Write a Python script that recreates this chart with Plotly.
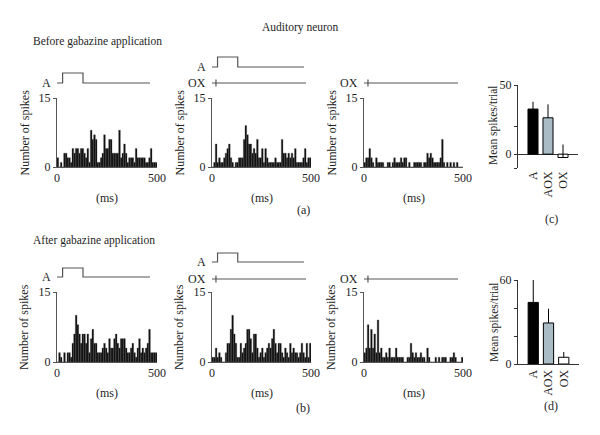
import plotly.graph_objects as go

W, H = 600, 435
FONT = "Liberation Serif, DejaVu Serif, serif"
OFF = 8  # page body margin compensation (px)

# ---------------- data ----------------
T_MAX = 500  # ms
before_A = [2,0,1,0,3,3,2,2,1,4, 3,4,4,3,4,4,3,2,4,1, 8,6,7,6,1,1,2,3,7,4,
            4,6,6,3,3,3,3,8,2,3, 5,3,1,2,2,2,1,4,2,2, 2,2,2,1,1,2,4,1,1,1]
before_AOX = [0,1,5,1,2,1,1,2,3,4, 5,2,1,0,1,1,2,2,2,6, 9,7,5,5,3,4,3,6,2,2,
              4,1,4,2,1,1,1,1,2,1, 1,1,6,3,3,2,3,2,3,2, 4,1,1,1,1,2,4,1,2,2]
before_OX = [1,2,2,4,2,1,0,2,1,1, 1,1,0,0,1,1,0,1,2,1, 1,1,2,1,2,2,0,1,0,0,
             1,1,1,1,1,0,1,1,3,2, 3,2,1,1,1,1,2,6,1,0, 1,0,1,0,1,0,1,0,0,0]
after_A = [0,2,1,0,2,0,2,2,1,4, 6,10,8,6,4,6,6,4,6,2, 5,7,4,4,2,2,2,3,4,3,
           2,5,3,3,5,6,4,3,5,5, 5,3,2,2,3,4,2,1,3,5, 2,3,2,3,4,7,2,2,2,2]
after_AOX = [1,1,3,1,2,1,0,0,2,4, 4,7,10,6,4,1,1,4,2,3, 4,7,7,5,2,6,6,3,1,2,
             3,1,2,3,4,3,5,7,4,2, 4,4,2,1,3,2,1,4,2,3, 2,2,1,2,4,2,1,4,1,4]
after_OX = [2,3,8,3,7,3,6,2,9,2, 3,1,1,2,1,3,1,1,1,3, 1,1,1,1,0,0,1,1,4,2,
            1,2,1,1,2,1,1,0,3,1, 0,0,0,1,0,1,0,1,1,1, 0,0,1,1,2,1,0,0,0,1]

bar_categories = ["A", "AOX", "OX"]
before_means = [32.6, 26.3, -2.4]
before_err = [5.3, 9.7, 9.4]
after_means = [44.0, 29.3, 4.8]
after_err = [16.0, 10.2, 3.8]
bar_colors = ["#000000", "#a9bcc6", "#ffffff"]

A_pulse = [0, 28, 130, 465]   # start, onset, offset, end (ms)
OX_line = [0, 20, 475]        # start, onset tick, end (ms)

hist_ticks = [0, 15]
hist_xticks = [0, 500]

# ---------------- layout helpers ----------------
def dx(a, b):
    return [(a - OFF) / W, (b - OFF) / W]

def dy(top, bottom):
    return [1 - (bottom - OFF) / H, 1 - (top - OFF) / H]

def r(letter, k):
    return letter if k == 1 else f"{letter}{k}"

def key(letter, k):
    return f"{letter}axis" if k == 1 else f"{letter}axis{k}"

AXC = "#555555"
TXT = "#1e1e1e"
TICKF = dict(size=12, family=FONT, color=TXT)

fig = go.Figure()
layout = dict(
    template="none",
    width=W, height=H, margin=dict(l=0, r=0, t=0, b=0, pad=0, autoexpand=False),
    paper_bgcolor="white", plot_bgcolor="white", showlegend=False,
    font=dict(family=FONT, size=12, color=TXT),
)
annotations = []

def ann(text, x, y, xanchor="center", yanchor="middle", angle=0, size=12):
    annotations.append(dict(text=text, x=(x - OFF) / W, y=1 - (y - OFF) / H,
                            xref="paper", yref="paper",
                            xanchor=xanchor, yanchor=yanchor, textangle=angle,
                            showarrow=False, font=dict(family=FONT, size=size, color=TXT)))

cols = [(57, 157), (212, 311), (364, 463)]
rows = [(98, 167), (292, 362)]
hists = [[before_A, before_AOX, before_OX], [after_A, after_AOX, after_OX]]

k = 0
for ri, (yt, yb) in enumerate(rows):
    for ci, (xl, xr) in enumerate(cols):
        k += 1
        vals = hists[ri][ci]
        bw = T_MAX / len(vals)
        xs = [(i + 0.5) * bw for i in range(len(vals))]
        fig.add_trace(go.Bar(x=xs, y=vals, width=bw, xaxis=r("x", k), yaxis=r("y", k),
                             marker=dict(color="#0a0a0a", line=dict(color="#4a4a4a", width=0.35))))
        layout[key("x", k)] = dict(domain=dx(xl, xr), anchor=r("y", k), range=[0, T_MAX],
                                   showline=True, linecolor=AXC, linewidth=1,
                                   tickvals=hist_xticks, ticks="", showgrid=False,
                                   zeroline=False, automargin=False, tickfont=TICKF)
        layout[key("y", k)] = dict(domain=dy(yt, yb), anchor=r("x", k), range=[0, 15],
                                   showline=True, linecolor=AXC, linewidth=1,
                                   tickvals=hist_ticks, ticks="outside", ticklen=3,
                                   tickcolor=AXC, showgrid=False, zeroline=False,
                                   automargin=False, tickfont=TICKF)
        cx = (xl + xr) / 2
        ann("Number of spikes", xl - 33, (yt + yb) / 2, angle=-90, size=12)
        ann("(ms)", cx, yb + 31, size=12)

# ---------------- stimulus traces ----------------
stim_k = 8
def add_A(k_hist, base, top, xl):
    global stim_k
    stim_k += 1
    u = base - top
    layout[key("y", stim_k)] = dict(domain=dy(top - 0.3 * u, base + 0.3 * u), range=[-0.3, 1.3],
                                    visible=False, anchor=r("x", k_hist), automargin=False)
    a0, a1, a2, a3 = A_pulse
    fig.add_trace(go.Scatter(x=[a0, a1, a1, a2, a2, a3], y=[0, 0, 1, 1, 0, 0], mode="lines",
                             line=dict(color="#555555", width=1.2),
                             xaxis=r("x", k_hist), yaxis=r("y", stim_k), hoverinfo="skip"))
    ann("A", xl - 4, base, xanchor="right", size=12)

def add_OX(k_hist, p, xl):
    global stim_k
    stim_k += 1
    layout[key("y", stim_k)] = dict(domain=dy(p - 4.5, p + 4.5), range=[-1.3, 1.3],
                                    visible=False, anchor=r("x", k_hist), automargin=False)
    o0, o1, o2 = OX_line
    fig.add_trace(go.Scatter(x=[o0, o2], y=[0, 0], mode="lines",
                             line=dict(color="#555555", width=1.2),
                             xaxis=r("x", k_hist), yaxis=r("y", stim_k), hoverinfo="skip"))
    fig.add_trace(go.Scatter(x=[o1, o1], y=[-1, 1], mode="lines",
                             line=dict(color="#555555", width=1.2),
                             xaxis=r("x", k_hist), yaxis=r("y", stim_k), hoverinfo="skip"))
    ann("OX", xl - 4, p, xanchor="right", size=12)

add_A(1, 83, 73, 57)
add_A(2, 67, 57, 212)
add_OX(2, 83, 212)
add_OX(3, 83, 364)
add_A(4, 277, 268, 57)
add_A(5, 262, 253, 212)
add_OX(5, 279, 212)
add_OX(6, 279, 364)

# ---------------- bar charts ----------------
def add_bars(k, means, errs, xdom, ydom, yrange, tickvals, ticktext, zero_line):
    fig.add_trace(go.Bar(x=list(range(len(bar_categories))), y=means, width=0.67,
                         marker=dict(color=bar_colors, line=dict(color="#000000", width=1)),
                         error_y=dict(type="data", symmetric=False, array=errs,
                                      arrayminus=[0] * len(errs), color="#000000",
                                      thickness=1, width=0),
                         xaxis=r("x", k), yaxis=r("y", k)))
    layout[key("x", k)] = dict(domain=xdom, anchor=r("y", k), range=[-1, 3],
                               tickvals=list(range(len(bar_categories))), ticktext=bar_categories,
                               tickangle=-90, showline=not zero_line, linecolor="#333333",
                               linewidth=1, ticks="", showgrid=False, zeroline=False,
                               automargin=False, tickfont=TICKF)
    layout[key("y", k)] = dict(domain=ydom, anchor=r("x", k), range=yrange,
                               tickvals=tickvals, ticktext=ticktext, showline=True,
                               linecolor="#333333", linewidth=1, ticks="outside", ticklen=3,
                               tickcolor="#333333", showgrid=False, zeroline=zero_line,
                               zerolinecolor="#333333", zerolinewidth=1,
                               automargin=False, tickfont=TICKF)

add_bars(7, before_means, before_err, dx(518, 578), dy(85, 168), [-10, 50],
         [-10, 0, 20, 50], ["", "0", "", "50"], True)
add_bars(8, after_means, after_err, dx(518, 579), dy(280, 364), [0, 60],
         [0, 20, 40, 60], ["0", "", "", "60"], False)
ann("Mean spikes/trial", 494, 125, angle=-90, size=11.5)
ann("Mean spikes/trial", 494, 322, angle=-90, size=11.5)

# ---------------- text ----------------
ann("Auditory neuron", 300, 27, size=11.5)
ann("Before gabazine application", 31, 41, xanchor="left", size=11.5)
ann("After gabazine application", 31, 240, xanchor="left", size=11.5)
ann("(a)", 303, 210)
ann("(b)", 303, 408)
ann("(c)", 551, 219)
ann("(d)", 551, 406)

layout["annotations"] = annotations
fig.update_layout(**layout)
fig.write_html("out.html")
